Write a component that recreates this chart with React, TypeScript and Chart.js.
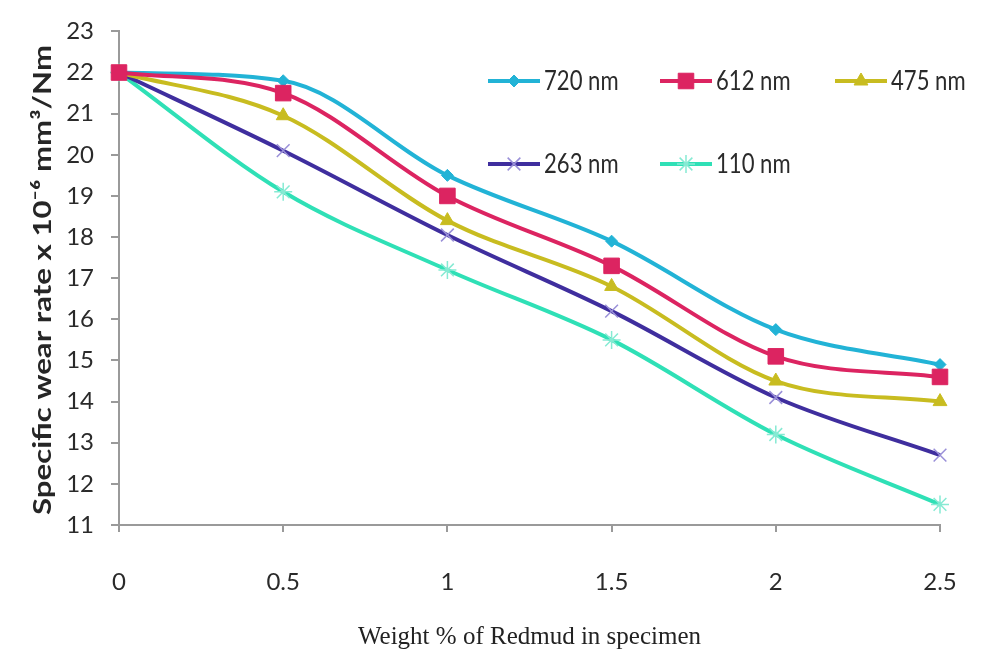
import React, { useEffect, useRef } from "react";
import { Chart, registerables } from "chart.js";
import { drawPoint } from "chart.js/helpers";

Chart.register(...registerables);

// Redmud content (weight %) on the x axis
const weightPct = [0, 0.5, 1, 1.5, 2, 2.5];

// Specific wear rate (x 10^-6 mm^3/Nm) for each particle size
const wear720 = [22, 21.8, 19.5, 17.9, 15.75, 14.9];
const wear612 = [22, 21.5, 19.0, 17.3, 15.1, 14.6];
const wear475 = [22, 20.95, 18.4, 16.8, 14.5, 14.0];
const wear263 = [22, 20.1, 18.05, 16.2, 14.1, 12.7];
const wear110 = [22, 19.1, 17.2, 15.5, 13.2, 11.5];

const seriesLabels = ["720 nm", "612 nm", "475 nm", "263 nm", "110 nm"];
const yTitle = "Specific wear rate x 10⁻⁶ mm³/Nm";
const xTitle = "Weight % of Redmud in specimen";

const SANS = "Lato, 'Open Sans', sans-serif";

// Legend laid out inside the plot area, two rows, three columns
const legendPlugin = {
  id: "gridLegend",
  afterDraw(chart: any) {
    const { ctx } = chart;
    const slots = [
      { x: 488, y: 81 },
      { x: 660, y: 81 },
      { x: 835, y: 81 },
      { x: 488, y: 164 },
      { x: 660, y: 164 },
    ];
    ctx.save();
    chart.data.datasets.forEach((ds: any, i: number) => {
      const s = slots[i];
      if (!s) return;
      ctx.strokeStyle = ds.borderColor;
      ctx.lineWidth = 4;
      ctx.beginPath();
      ctx.moveTo(s.x, s.y);
      ctx.lineTo(s.x + 52, s.y);
      ctx.stroke();
      ctx.fillStyle = ds.pointBackgroundColor;
      ctx.strokeStyle = ds.pointBorderColor;
      ctx.lineWidth = ds.pointBorderWidth;
      drawPoint(
        ctx,
        { pointStyle: ds.pointStyle, radius: ds.pointRadius, borderWidth: ds.pointBorderWidth, rotation: 0 },
        s.x + 26,
        s.y
      );
      // condensed label text
      ctx.save();
      ctx.translate(s.x + 56, s.y + 1);
      ctx.scale(0.85, 1);
      ctx.fillStyle = "#2a2a2a";
      ctx.font = `26px ${SANS}`;
      ctx.textBaseline = "middle";
      ctx.textAlign = "left";
      ctx.fillText(ds.label, 0, 0);
      ctx.restore();
    });
    ctx.restore();
  },
};

// Rotated y-axis title, stretched along its length
const yTitlePlugin = {
  id: "yTitle",
  afterDraw(chart: any) {
    const { ctx } = chart;
    ctx.save();
    ctx.font = `bold 24px ${SANS}`;
    const w = ctx.measureText(yTitle).width;
    const stretch = 470 / w;
    ctx.translate(43, 280);
    ctx.rotate(-Math.PI / 2);
    ctx.scale(stretch, 1);
    ctx.fillStyle = "#262626";
    ctx.textAlign = "center";
    ctx.textBaseline = "middle";
    ctx.fillText(yTitle, 0, 0);
    ctx.restore();
  },
};

export default function App() {
  const canvasRef = useRef<HTMLCanvasElement | null>(null);

  useEffect(() => {
    document.body.style.margin = "0";
    const mk = (vals: number[]) => vals.map((y, i) => ({ x: weightPct[i], y }));
    const styles = [
      { line: "#22b3d6", fill: "#22b3d6", border: "#22b3d6", style: "rectRot", r: 6, bw: 1 },
      { line: "#dc2461", fill: "#dc2461", border: "#dc2461", style: "rect", r: 11, bw: 1 },
      { line: "#c8bc20", fill: "#c8bc20", border: "#c8bc20", style: "triangle", r: 8, bw: 1 },
      { line: "#3f2e9e", fill: "#9a90d8", border: "#9a90d8", style: "crossRot", r: 9, bw: 1.5 },
      { line: "#2fe0b6", fill: "#86ead3", border: "#86ead3", style: "star", r: 9, bw: 1.5 },
    ];
    const values = [wear720, wear612, wear475, wear263, wear110];

    const chart = new Chart(canvasRef.current as HTMLCanvasElement, {
      type: "line",
      data: {
        datasets: values.map((v, i) => ({
          label: seriesLabels[i],
          data: mk(v),
          borderColor: styles[i].line,
          borderWidth: 4,
          cubicInterpolationMode: "monotone" as const,
          clip: false as any,
          pointStyle: styles[i].style as any,
          pointRadius: styles[i].r,
          pointBackgroundColor: styles[i].fill,
          pointBorderColor: styles[i].border,
          pointBorderWidth: styles[i].bw,
          order: i === 1 ? 0 : i + 1,
        })),
      },
      options: {
        animation: false,
        responsive: false,
        layout: { padding: { top: 28, right: 46, left: 0, bottom: 0 } },
        plugins: { legend: { display: false }, tooltip: { enabled: false } },
        scales: {
          x: {
            type: "linear",
            min: 0,
            max: 2.5,
            ticks: {
              stepSize: 0.5,
              color: "#2a2a2a",
              font: { family: SANS, size: 24 },
              padding: 36,
              callback: (v: any) => String(Number(v)),
            },
            grid: { drawOnChartArea: false, drawTicks: true, tickLength: 7, color: "#9a9a9a", lineWidth: 2 },
            border: { display: true, color: "#9a9a9a", width: 2 },
            title: {
              display: true,
              text: xTitle,
              color: "#222",
              font: { family: "'Liberation Serif', serif", size: 25 },
              padding: { top: 0, bottom: 3 },
            },
            afterFit: (scale: any) => {
              scale.height = 130;
              scale.paddingLeft = 0;
              scale.paddingRight = 0;
            },
          },
          y: {
            min: 11,
            max: 23,
            ticks: {
              stepSize: 1,
              color: "#2a2a2a",
              font: { family: SANS, size: 24 },
              padding: 17,
            },
            grid: { drawOnChartArea: false, drawTicks: true, tickLength: 8, color: "#9a9a9a", lineWidth: 2 },
            border: { display: true, color: "#9a9a9a", width: 2 },
            title: { display: false },
            afterFit: (scale: any) => {
              scale.width = 119;
            },
          },
        },
      },
      plugins: [legendPlugin, yTitlePlugin],
    });
    return () => chart.destroy();
  }, []);

  return (
    <div style={{ width: 986, height: 655 }}>
      <canvas ref={canvasRef} width={986} height={655} />
    </div>
  );
}
